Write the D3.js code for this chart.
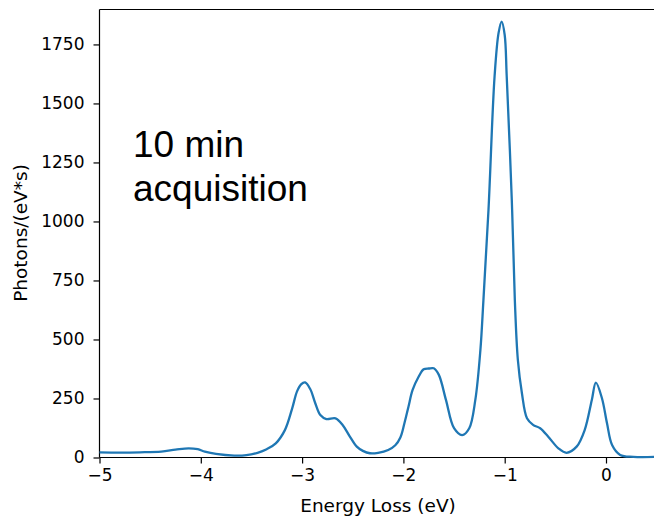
<!DOCTYPE html>
<html>
<head>
<meta charset="utf-8">
<script src="https://cdn.jsdelivr.net/npm/d3@7"></script>
<style>
  html, body { margin: 0; padding: 0; background: #fff; }
  svg { display: block; }
</style>
</head>
<body>
<svg id="chart" width="654" height="517"></svg>
<script>
// Energy loss (eV)
const energy = [-5.00, -4.80, -4.60, -4.39, -4.25, -4.12, -4.03, -3.96, -3.85, -3.67, -3.55, -3.44,
  -3.35, -3.26, -3.17, -3.10, -3.05, -3.01, -2.97, -2.92, -2.87, -2.82, -2.76, -2.67, -2.60, -2.53, -2.46,
  -2.40, -2.33, -2.25, -2.15, -2.08, -2.03, -1.99, -1.95, -1.91, -1.85, -1.80, -1.75, -1.70,
  -1.65, -1.58, -1.50, -1.42, -1.35, -1.29, -1.24, -1.21, -1.16, -1.10, -1.06, -1.03, -1.00, -0.98,
  -0.93, -0.90, -0.87, -0.83, -0.78, -0.72, -0.65, -0.57, -0.47, -0.39, -0.29, -0.21, -0.14, -0.10,
  -0.04, 0.01, 0.06, 0.14, 0.27, 0.50];
// Photons/(eV*s)
const photons = [22, 21, 22, 25, 33, 39, 35, 25, 15, 8, 10, 20,
  35, 60, 116, 205, 280, 310, 318, 290, 230, 180, 163, 166, 138, 90, 46,
  28, 18, 20, 32, 52, 85, 145, 215, 285, 342, 374, 377, 378,
  350, 244, 124, 95, 124, 244, 455, 667, 1049, 1614, 1800, 1847, 1790, 1614,
  1091, 667, 413, 272, 166, 138, 124, 88, 39, 20, 46, 117, 244, 317,
  251, 145, 53, 11, 3, 3];
const xTicks = [-5, -4, -3, -2, -1, 0];
const yTicks = [0, 250, 500, 750, 1000, 1250, 1500, 1750];
const annotation = ["10 min", "acquisition"];

const svg = d3.select("#chart");
const mLeft = 99.5, mTop = 9.5, mBottom = 457.5;
const x = d3.scaleLinear().domain([-5, 0.5]).range([mLeft, mLeft + 5.5 * 101.3]);
const y = d3.scaleLinear().domain([0, 1898]).range([mBottom, mTop]);

const font = "'DejaVu Sans', sans-serif";
const fs = "17px";
const lfs = "18.5px";

// top spine
svg.append("line").attr("x1", mLeft).attr("x2", 660).attr("y1", mTop).attr("y2", mTop)
  .attr("stroke", "#000").attr("stroke-width", 1.2);

const xAxis = svg.append("g").attr("transform", `translate(0,${mBottom})`)
  .call(d3.axisBottom(x).tickValues(xTicks).tickSize(6).tickPadding(5)
    .tickFormat(d => d < 0 ? "\u2212" + Math.abs(d) : d));
const yAxis = svg.append("g").attr("transform", `translate(${mLeft},0)`)
  .call(d3.axisLeft(y).tickValues(yTicks).tickSize(6).tickPadding(9).tickFormat(d3.format("d")));
[xAxis, yAxis].forEach(g => {
  g.select(".domain").attr("stroke", "#000").attr("stroke-width", 1.2);
  g.selectAll(".tick line").attr("stroke", "#000").attr("stroke-width", 1.2);
  g.selectAll(".tick text").attr("fill", "#000").style("font-family", font).style("font-size", fs);
});
xAxis.select(".domain").attr("d", `M${mLeft},0H660`);
yAxis.select(".domain").attr("d", `M0,${mBottom}V${mTop}`);

// axis labels
svg.append("text").attr("x", 378).attr("y", 512).attr("text-anchor", "middle")
  .style("font-family", font).style("font-size", lfs).text("Energy Loss (eV)");
svg.append("text").attr("transform", `translate(27,233) rotate(-90)`).attr("text-anchor", "middle")
  .style("font-family", font).style("font-size", lfs).text("Photons/(eV*s)");

// curve
const data = energy.map((e, i) => [e, photons[i]]);
svg.append("path").datum(data)
  .attr("fill", "none").attr("stroke", "#1f77b4").attr("stroke-width", 2.3)
  .attr("stroke-linejoin", "round")
  .attr("d", d3.line().x(d => x(d[0])).y(d => y(d[1])).curve(d3.curveCatmullRom.alpha(0.5)));

// annotation
const ann = svg.append("text").style("font-family", "'Liberation Sans', Arial, sans-serif")
  .style("font-size", "37px").attr("fill", "#000");
annotation.forEach((t, i) => {
  ann.append("tspan").attr("x", 133).attr("y", 157 + i * 44).text(t);
});
</script>
</body>
</html>
